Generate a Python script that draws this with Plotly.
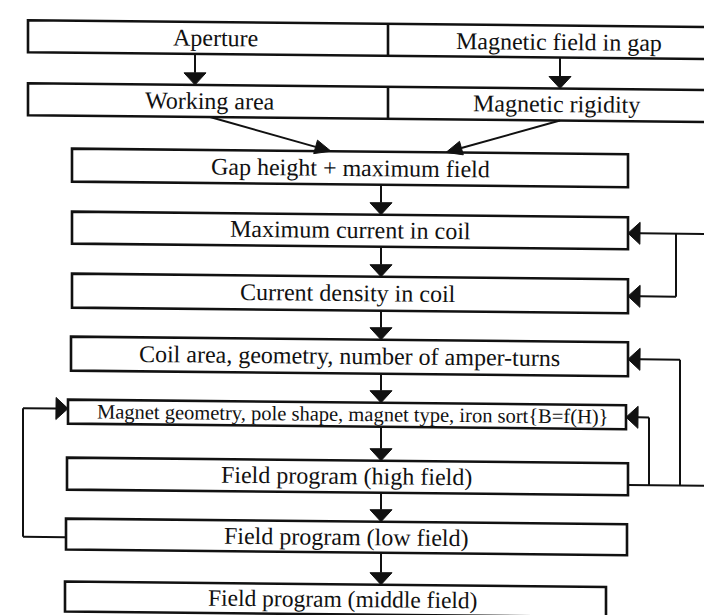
import math
import plotly.graph_objects as go

# two-cell rows at the top
top_left = ["Aperture", "Working area"]
top_right = ["Magnetic field in gap", "Magnetic rigidity"]

# main chain of steps
steps = [
    "Gap height + maximum field",
    "Maximum current in coil",
    "Current density in coil",
    "Coil area, geometry, number of amper-turns",
    "Magnet geometry, pole shape, magnet type, iron sort{B=f(H)}",
    "Field program (high field)",
    "Field program (low field)",
    "Field program (middle field)",
]

# feedback loops (from step, to step)
feedback_right = [(5, 1), (5, 2), (5, 3), (5, 4)]
feedback_left = [(6, 4)]

# ---- layout (pixel space, before the slight scan tilt) ----
W, H = 712, 615
TILT, PIVOT = 0.01, 300  # the scanned page is rotated a little clockwise

row_top = [15, 78]
row_bot = [47, 110]
row_x0, row_mid, row_x1 = 20, 380, 725
row_text_x = [(207, 551), (202, 548)]
row_arrow_x = [187, 552]
merge_from_x = [202, 552]
merge_to_x = [323, 438]

step_top = [143, 206, 268, 331, 394, 452, 513, 576]
step_bot = [176, 238, 302, 365, 418, 484, 544, 606]
step_x0 = [64, 64, 64, 63, 60, 59, 58, 57]
step_x1 = [620, 620, 620, 620, 618, 620, 619, 598]
step_text_x = [342, 342, 340, 341, 345, 338, 338, 335]
font_size = [24, 24, 24, 24, 20.5, 24, 24, 23.5]
chain_x = 373

chan_x = {1: 706, 2: 668, 3: 672, 4: 641}
left_chan_x = 15

BLACK = "#111111"
FONT = "Liberation Serif, Times New Roman, serif"
shapes = []
annotations = []


def T(x, y):
    return x, y + TILT * (x - PIVOT)


def line(x0, y0, x1, y1, w=2):
    (a, b), (c, d) = T(x0, y0), T(x1, y1)
    shapes.append(dict(type="line", x0=a, y0=b, x1=c, y1=d,
                       line=dict(color=BLACK, width=w)))


def arrow(x0, y0, x1, y1, length=12, half=11):
    (x0, y0), (x1, y1) = T(x0, y0), T(x1, y1)
    d = math.hypot(x1 - x0, y1 - y0)
    ux, uy = (x1 - x0) / d, (y1 - y0) / d
    bx, by = x1 - ux * length, y1 - uy * length
    shapes.append(dict(type="line", x0=x0, y0=y0, x1=bx, y1=by,
                       line=dict(color=BLACK, width=2)))
    px, py = -uy * half, ux * half
    shapes.append(dict(
        type="path",
        path=f"M {x1},{y1} L {bx + px},{by + py} L {bx - px},{by - py} Z",
        fillcolor=BLACK, line=dict(color=BLACK, width=1)))


def box(x0, y0, x1, y1):
    pts = [T(x0, y0), T(x1, y0), T(x1, y1), T(x0, y1)]
    path = "M " + " L ".join(f"{a},{b}" for a, b in pts) + " Z"
    shapes.append(dict(type="path", path=path, line=dict(color=BLACK, width=2.6)))


def label(text, x, y, size=24):
    x, y = T(x, y)
    annotations.append(dict(
        x=x, y=y, text=text, showarrow=False, xanchor="center", yanchor="middle",
        textangle=math.degrees(math.atan(TILT)), borderpad=0,
        font=dict(family=FONT, size=size, color=BLACK)))


# top rows
for i in range(2):
    box(row_x0, row_top[i], row_x1, row_bot[i])
    line(row_mid, row_top[i], row_mid, row_bot[i], w=2.6)
    cy = (row_top[i] + row_bot[i]) / 2
    label(top_left[i], row_text_x[i][0], cy)
    label(top_right[i], row_text_x[i][1], cy)
for x in row_arrow_x:
    arrow(x, row_bot[0], x, row_top[1])
for xa, xb in zip(merge_from_x, merge_to_x):
    arrow(xa, row_bot[1], xb, step_top[0], length=16, half=7)

# chain
for i, t in enumerate(steps):
    box(step_x0[i], step_top[i], step_x1[i], step_bot[i])
    label(t, step_text_x[i], (step_top[i] + step_bot[i]) / 2, font_size[i])
    if i < len(steps) - 1:
        arrow(chain_x, step_bot[i], chain_x, step_top[i + 1])


def mid(i):
    return (step_top[i] + step_bot[i]) / 2


# right feedback loops
src = feedback_right[0][0]
base_y = step_top[src] + 0.68 * (step_bot[src] - step_top[src])
line(step_x1[src], base_y, max(chan_x.values()), base_y)
for s, t in feedback_right:
    cx = chan_x[t]
    ty = mid(t)
    y_start = mid(1) if t == 2 else base_y  # step 2 branches off the loop into step 1
    line(cx, y_start, cx, ty)
    arrow(cx, ty, step_x1[t], ty)

# left feedback loop
for s, t in feedback_left:
    sy = step_top[s] + 0.6 * (step_bot[s] - step_top[s])
    ty = mid(t) - 3
    line(step_x0[s], sy, left_chan_x, sy)
    line(left_chan_x, sy, left_chan_x, ty)
    arrow(left_chan_x, ty, step_x0[t], ty)

fig = go.Figure()
fig.update_layout(
    width=W, height=H,
    margin=dict(l=0, r=0, t=0, b=0),
    paper_bgcolor="white", plot_bgcolor="white",
    xaxis=dict(range=[0, W], visible=False, fixedrange=True),
    yaxis=dict(range=[H, 0], visible=False, fixedrange=True),
    shapes=shapes, annotations=annotations,
    showlegend=False,
)
fig.write_html("out.html")
